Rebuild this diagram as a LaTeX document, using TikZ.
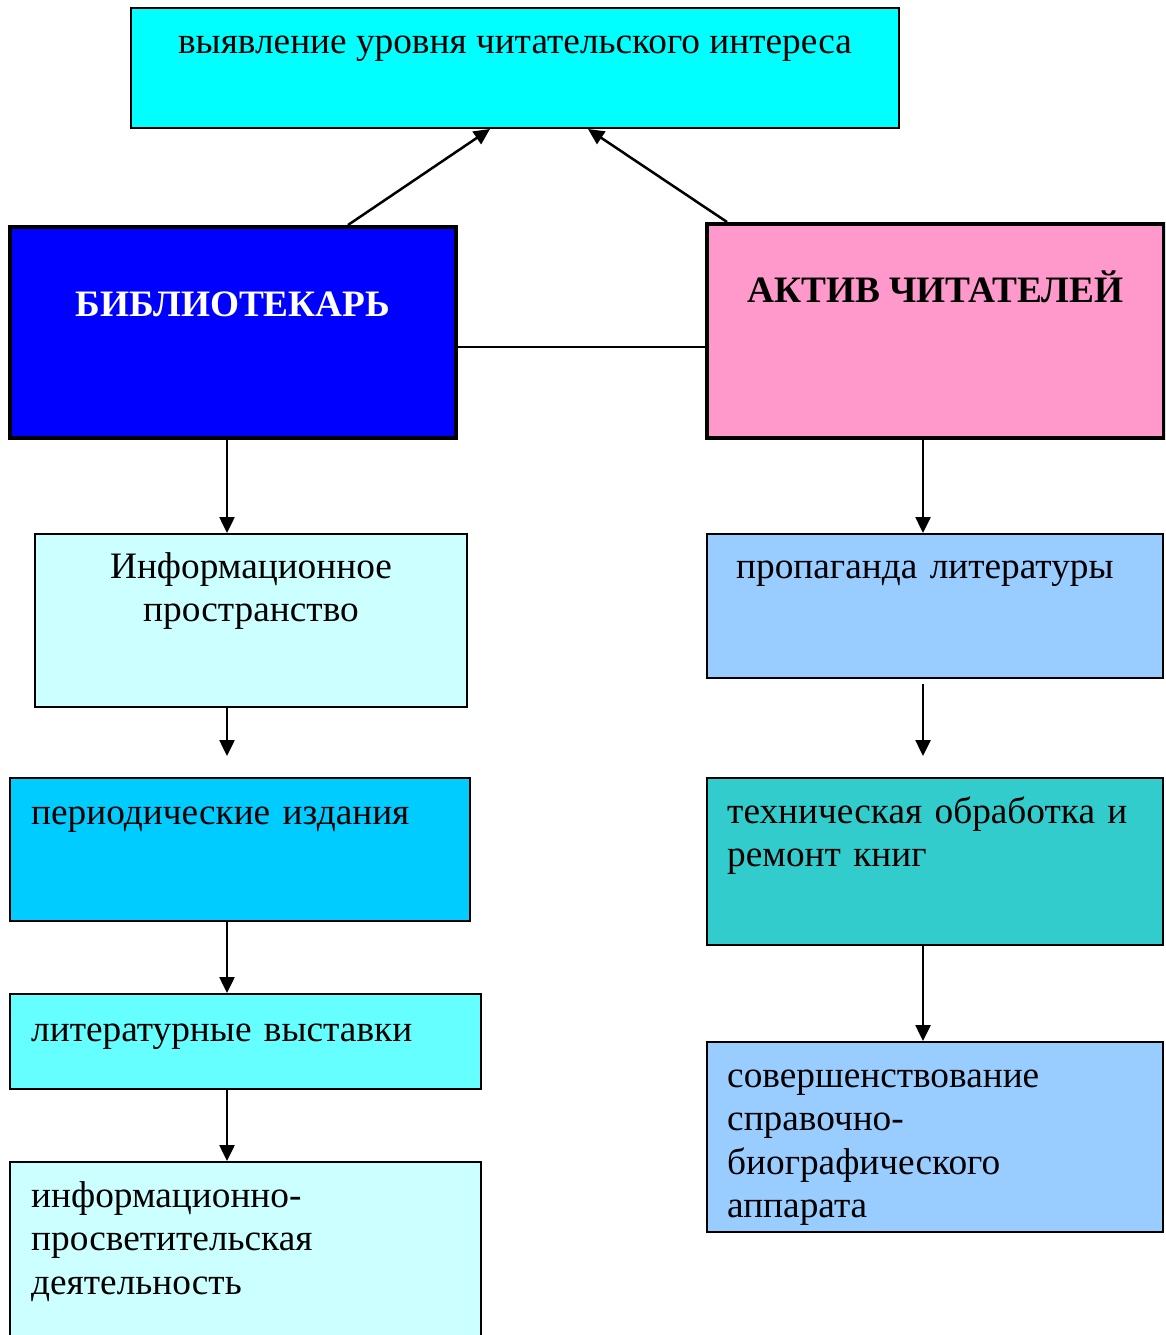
\documentclass[tikz,border=0pt]{standalone}
\usepackage{fontspec}
\setmainfont{Liberation Serif}
\usetikzlibrary{arrows.meta,calc}
\definecolor{cTop}{HTML}{00FFFF}
\definecolor{cBlue}{HTML}{0000FF}
\definecolor{cPink}{HTML}{FF99CC}
\definecolor{cPale}{HTML}{CCFFFF}
\definecolor{cSky}{HTML}{00CCFF}
\definecolor{cAqua}{HTML}{66FFFF}
\definecolor{cLblue}{HTML}{99CCFF}
\definecolor{cTeal}{HTML}{33CCCC}
\tikzset{
  box/.style={draw=black, line width=2pt, rectangle, inner sep=0pt},
  bigbox/.style={draw=black, line width=4pt, rectangle, inner sep=0pt},
  txt/.style={inner sep=0pt, font=\fontsize{37.3}{43.5}\selectfont},
  arr/.style={line width=2.5pt, -{Triangle[length=16pt,width=15pt]}},
  conn/.style={line width=2.5pt}
}
\begin{document}
\begin{tikzpicture}[x=1pt,y=-1pt]
\useasboundingbox (0,0) rectangle (1165,1335);
\clip (0,0) rectangle (1165,1335);
% boxes
\node[box, fill=cTop, minimum width=768pt, minimum height=120pt] (top) at (515,68) {};
\node[bigbox, fill=cBlue, minimum width=446pt, minimum height=211pt] (bib) at (233,332.5) {};
\node[bigbox, fill=cPink, minimum width=457pt, minimum height=214pt] (akt) at (935.5,331) {};
\node[box, fill=cPale, minimum width=432pt, minimum height=173pt] (info) at (251,620.5) {};
\node[box, fill=cSky, minimum width=460pt, minimum height=143pt] (period) at (240,849.5) {};
\node[box, fill=cAqua, minimum width=471pt, minimum height=95pt] (lit) at (245.5,1041.5) {};
\node[box, fill=cPale, minimum width=471pt, minimum height=183pt] (ipd) at (245.5,1253.5) {};
\node[box, fill=cLblue, minimum width=456pt, minimum height=144pt] (prop) at (935,606) {};
\node[box, fill=cTeal, minimum width=456pt, minimum height=167pt] (tech) at (935,861.5) {};
\node[box, fill=cLblue, minimum width=456pt, minimum height=190pt] (sov) at (935,1137) {};
% texts
\node[txt, anchor=base] (t0) at ([yshift=-47pt]top.north) {выявление уровня читательского интереса};
\node[txt, anchor=base, text=white, font=\fontsize{37.3}{43.5}\selectfont\bfseries] (t1) at ([yshift=-91pt]bib.north) {БИБЛИОТЕКАРЬ};
\node[txt, anchor=base, font=\fontsize{37.3}{43.5}\selectfont\bfseries] (t2) at ([yshift=-80pt]akt.north) {АКТИВ ЧИТАТЕЛЕЙ};
\node[txt, anchor=base, text width=420pt, align=center] (t3) at ([yshift=-45pt]info.north) {Информационное\\пространство};
\node[txt, anchor=base west, text width=440pt, align=left] (t4) at ([xshift=22pt,yshift=-47pt]period.north west) {периодические издания};
\node[txt, anchor=base west, text width=450pt, align=left] (t5) at ([xshift=22pt,yshift=-48pt]lit.north west) {литературные выставки};
\node[txt, anchor=base west, text width=450pt, align=left] (t6) at ([xshift=22pt,yshift=-46pt]ipd.north west) {информационно-\\просветительская\\деятельность};
\node[txt, anchor=base west, text width=420pt, align=left] (t7) at ([xshift=30pt,yshift=-45pt]prop.north west) {пропаганда литературы};
\node[txt, anchor=base west, text width=430pt, align=left] (t8) at ([xshift=21pt,yshift=-46pt]tech.north west) {техническая обработка и\\ремонт книг};
\node[txt, anchor=base west, text width=430pt, align=left] (t9) at ([xshift=21pt,yshift=-46pt]sov.north west) {совершенствование\\справочно-\\биографического\\аппарата};
% connectors
\coordinate (lx) at (227,0);
\coordinate (rx) at (923,0);
\draw[arr] ([xshift=115pt]bib.north) -- ([xshift=-25pt]top.south);
\draw[arr] ([xshift=-208.5pt]akt.north) -- ([xshift=73pt]top.south);
\path ([yshift=-14.5pt]bib.east) coordinate (hl);
\draw[conn, line width=2pt] (hl) -- (hl -| akt.west);
\draw[arr] (bib.south -| lx) -- (info.north -| lx);
\path (info.south -| lx) ++(0,48) coordinate (f1);
\draw[arr] (info.south -| lx) -- (f1);
\draw[arr] (period.south -| lx) -- (lit.north -| lx);
\draw[arr] (lit.south -| lx) -- (ipd.north -| lx);
\draw[arr] (akt.south -| rx) -- (prop.north -| rx);
\path (prop.south -| rx) ++(0,5) coordinate (r1s) ++(0,72) coordinate (r1e);
\draw[arr] (r1s) -- (r1e);
\draw[arr] (tech.south -| rx) -- (sov.north -| rx);
\end{tikzpicture}
\end{document}
